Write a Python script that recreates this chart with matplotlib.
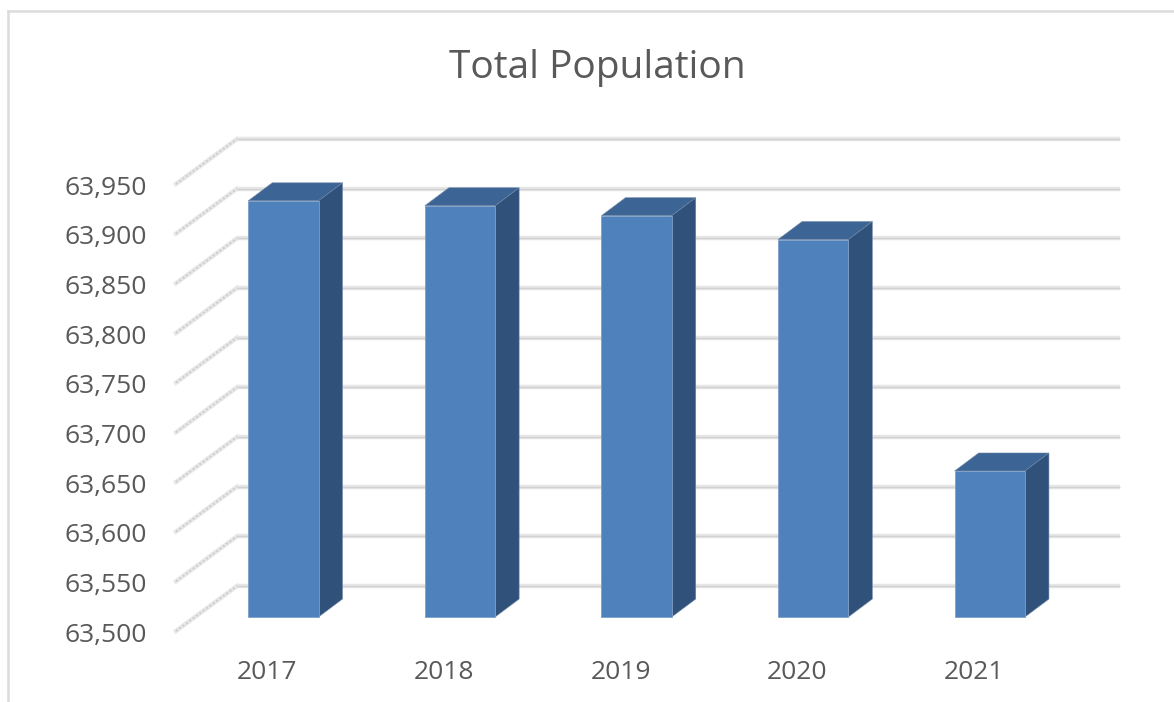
# Total population 3D style column chart
import matplotlib
matplotlib.use('Agg')
import matplotlib.pyplot as plt
from matplotlib.lines import Line2D
from matplotlib.patches import Polygon
from matplotlib.transforms import ScaledTranslation

plt.rcParams['font.family'] = ['Open Sans', 'DejaVu Sans']

# Data
years = ['2017', '2018', '2019', '2020', '2021']
population = [63919, 63914, 63904, 63880, 63647]
y_ticks = [63500, 63550, 63600, 63650, 63700, 63750, 63800, 63850, 63900, 63950]

# Fake depth, in axis units
floor_dx = 0.345
floor_dy = 45.3
bar_width = 0.398
bar_shift_x = 0.108
bar_shift_y = 14.1
bar_depth_x = 0.136
bar_depth_y = 18.1

face_color = '#4f81bd'
top_color = '#3c6494'
side_color = '#30527a'
text_color = '#595959'

W, H = 1174, 702
fig = plt.figure(figsize=(W / 100, H / 100), dpi=100)
ax = fig.add_axes([176 / W, 1 - 631 / H, 883 / W, 447 / H])
ax.set_xlim(-0.5, 4.5)
ax.set_ylim(63500, 63950)

for s in ax.spines.values():
    s.set_visible(False)

# Chart border, only top and left are in the crop
fig.add_artist(Line2D([8 / W, 8 / W], [0, 1 - 11 / H], color='#dcdcdc', lw=1.8))
fig.add_artist(Line2D([8 / W, 1], [1 - 11 / H, 1 - 11 / H], color='#dcdcdc', lw=1.8))

# Gridlines on the back wall and the slanted ones on the side wall
for v in y_ticks:
    xb = [-0.5 + floor_dx, 4.5 + floor_dx]
    yb = [v + floor_dy, v + floor_dy]
    ax.plot(xb, yb, color='#e6e6e6', lw=3.2, clip_on=False, zorder=1, solid_capstyle='butt')
    ax.plot(xb, yb, color='#d2d2d2', lw=1, clip_on=False, zorder=1.1, solid_capstyle='butt')
    xs = [-0.5, -0.5 + floor_dx]
    ys = [v, v + floor_dy]
    ax.plot(xs, ys, color='#e8e8e8', lw=3.2, clip_on=False, zorder=1)
    ax.plot(xs, ys, color='#cfcfcf', lw=1.5, ls=(0, (1, 1)), clip_on=False, zorder=1.1)

# Bars: front face, top and side
for i, val in enumerate(population):
    x0 = i + bar_shift_x - bar_width / 2
    x1 = x0 + bar_width
    y0 = 63500 + bar_shift_y
    y1 = val + bar_shift_y
    ax.bar(i + bar_shift_x, val - 63500, bar_width, bottom=y0, color=face_color,
           edgecolor='#7f9fc6', linewidth=0.6, clip_on=False, zorder=3)
    ax.add_patch(Polygon([(x0, y1), (x1, y1), (x1 + bar_depth_x, y1 + bar_depth_y),
                          (x0 + bar_depth_x, y1 + bar_depth_y)],
                         facecolor=top_color, edgecolor='#6f88a8', linewidth=0.4,
                         clip_on=False, zorder=2.5))
    ax.add_patch(Polygon([(x1, y0), (x1 + bar_depth_x, y0 + bar_depth_y),
                          (x1 + bar_depth_x, y1 + bar_depth_y), (x1, y1)],
                         facecolor=side_color, edgecolor='#6f88a8', linewidth=0.4,
                         clip_on=False, zorder=2.5))

# Axis labels
ax.set_xticks(range(len(years)))
ax.set_xticklabels(years)
ax.set_yticks(y_ticks)
ax.set_yticklabels([f'{v:,}' for v in y_ticks])
ax.tick_params(axis='x', length=0, pad=21, labelsize=19, labelcolor=text_color)
ax.tick_params(axis='y', length=0, pad=21, labelsize=19, labelcolor=text_color)

# Nudge tick labels by a few pixels
for lab in ax.get_xticklabels():
    lab.set_transform(lab.get_transform() + ScaledTranslation(3 / 100, 0, fig.dpi_scale_trans))
for lab in ax.get_yticklabels():
    lab.set_transform(lab.get_transform() + ScaledTranslation(0, -1 / 100, fig.dpi_scale_trans))

fig.text(597 / W, 1 - 68 / H, 'Total Population', ha='center', va='center',
         fontsize=28, color=text_color)

fig.savefig('out.png', dpi=100)
